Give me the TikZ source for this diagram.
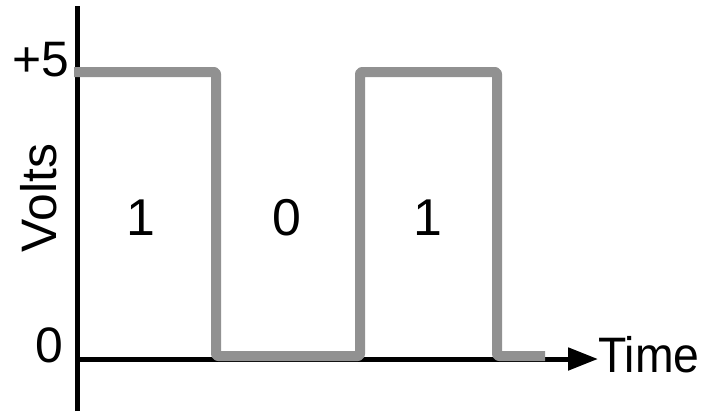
\documentclass[tikz,border=0pt]{standalone}
\usepackage{fontspec}
\setmainfont{Liberation Sans}
\usetikzlibrary{arrows.meta}
\definecolor{sig}{HTML}{919191}
\begin{document}
\begin{tikzpicture}[x=1bp,y=1bp,
  axis/.style={line width=5bp,black},
  signal/.style={line width=10bp,sig,line join=round,rounded corners=2bp},
  lbl/.style={font=\fontsize{50}{60}\selectfont,inner sep=0pt},
  bit/.style={font=\fontsize{52}{62}\selectfont,inner sep=0pt}]
\useasboundingbox (0,0) rectangle (704,411);
% axes
\coordinate (ytop) at (77,405);
\coordinate (ybot) at (77,0);
\coordinate (xstart) at (75,52);
\coordinate (xend) at (598,52);
\draw[axis] (ybot) -- (ytop);
\draw[axis,-{Triangle[length=30bp,width=22bp]}] (xstart) -- (xend);
% signal
\coordinate (s0) at (74,339);
\coordinate (s1) at (216,339);
\coordinate (s2) at (216,55);
\coordinate (s3) at (360,55);
\coordinate (s4) at (360,339);
\coordinate (s5) at (497,339);
\coordinate (s6) at (497,55);
\coordinate (s7) at (545,55);
\draw[signal] (s0) -- (s1) -- (s2) -- (s3) -- (s4) -- (s5) -- (s6) -- (s7);
% labels
\node[lbl,anchor=east] (plus5) at (69,351) {+5};
\node[lbl,anchor=east] (zero) at (63,66) {0};
\node[lbl,anchor=west,xscale=0.93] (time) at (598,56) {Time};
\node[lbl,rotate=90] (volts) at (39,213) {Volts};
\node[bit] (b1) at (141,193) {1};
\node[bit] (b2) at (287,193) {0};
\node[bit] (b3) at (428,193) {1};
\end{tikzpicture}
\end{document}
